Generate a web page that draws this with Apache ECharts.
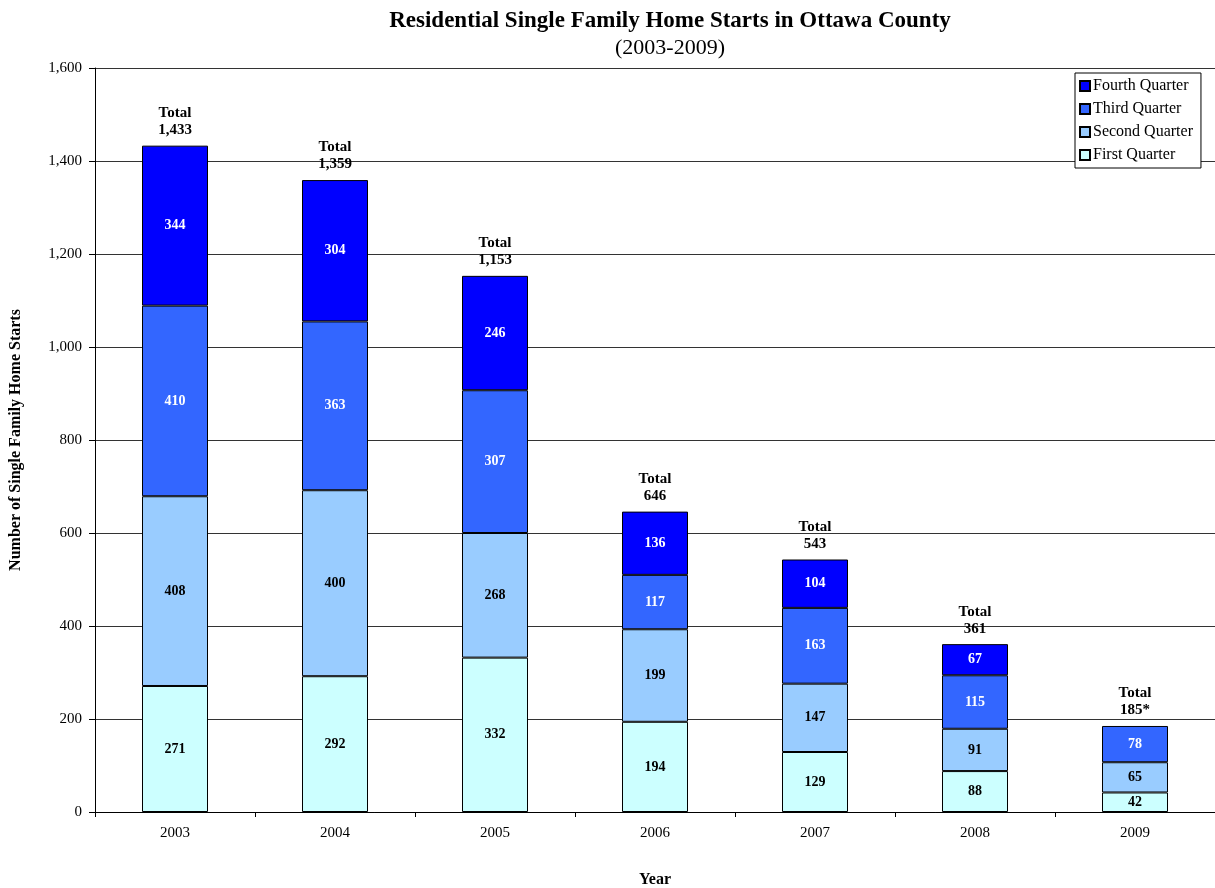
<!DOCTYPE html>
<html>
<head>
<meta charset="utf-8">
<script src="https://cdn.jsdelivr.net/npm/echarts@6/dist/echarts.min.js"></script>
<style>
  html, body { margin: 0; padding: 0; background: #fff; }
  #chart { width: 1215px; height: 888px; }
</style>
</head>
<body>
<div id="chart"></div>
<script>
var years = ['2003', '2004', '2005', '2006', '2007', '2008', '2009'];
var firstQuarter = [271, 292, 332, 194, 129, 88, 42];
var secondQuarter = [408, 400, 268, 199, 147, 91, 65];
var thirdQuarter = [410, 363, 307, 117, 163, 115, 78];
var fourthQuarter = [344, 304, 246, 136, 104, 67, '-'];
var totalLabels = ['1,433', '1,359', '1,153', '646', '543', '361', '185*'];

var serif = "'Liberation Serif', 'Times New Roman', serif";

function quarterSeries(name, data, color, labelColor) {
  return {
    name: name,
    type: 'bar',
    stack: 'starts',
    barWidth: 66,
    data: data,
    itemStyle: { color: color, borderColor: '#000', borderWidth: 1 },
    label: {
      show: true,
      position: 'inside',
      color: labelColor,
      fontFamily: serif,
      fontWeight: 'bold',
      fontSize: 14
    }
  };
}

var myChart = echarts.init(document.getElementById('chart'));
myChart.setOption({
  backgroundColor: '#fff',
  animation: false,
  title: [{
    text: 'Residential Single Family Home Starts in Ottawa County',
    left: 665, top: 5, textAlign: 'center',
    textStyle: { fontFamily: serif, fontWeight: 'bold', fontSize: 23, color: '#000' }
  }, {
    text: '(2003-2009)',
    left: 665, top: 32, textAlign: 'center',
    textStyle: { fontFamily: serif, fontWeight: 'normal', fontSize: 22, color: '#000' }
  }],
  legend: {
    data: ['Fourth Quarter', 'Third Quarter', 'Second Quarter', 'First Quarter'],
    orient: 'vertical',
    left: 1075, top: 73,
    itemWidth: 10, itemHeight: 10, itemGap: 7,
    padding: [5, 8, 5, 4],
    borderColor: '#000', borderWidth: 1,
    backgroundColor: '#fff',
    icon: 'rect',
    textStyle: { fontFamily: serif, fontSize: 16, color: '#000', padding: [0, 0, 0, -2] }
  },
  grid: { left: 95, right: 0, top: 68, bottom: 76, outerBoundsMode: 'none', containLabel: false },
  xAxis: {
    type: 'category',
    data: years,
    name: 'Year',
    nameLocation: 'middle',
    nameGap: 60,
    nameTextStyle: { fontFamily: serif, fontWeight: 'bold', fontSize: 16, color: '#000' },
    axisLine: { lineStyle: { color: '#000', width: 1 } },
    axisTick: { show: true, length: 5, lineStyle: { color: '#000' } },
    axisLabel: { fontFamily: serif, fontSize: 15, color: '#000', margin: 14 }
  },
  yAxis: {
    type: 'value',
    min: 0, max: 1600, interval: 200,
    name: 'Number of Single Family Home Starts',
    nameLocation: 'middle',
    nameGap: 71,
    nameTextStyle: { fontFamily: serif, fontWeight: 'bold', fontSize: 16, color: '#000' },
    axisLine: { show: true, lineStyle: { color: '#000', width: 1 } },
    axisTick: { show: true, length: 6, lineStyle: { color: '#000' } },
    axisLabel: {
      fontFamily: serif, fontSize: 15, color: '#000', margin: 13,
      formatter: function (v) { return v.toLocaleString('en-US'); }
    },
    splitLine: { show: true, lineStyle: { color: '#333', width: 1 } }
  },
  series: [
    quarterSeries('First Quarter', firstQuarter, '#CCFFFF', '#000'),
    quarterSeries('Second Quarter', secondQuarter, '#99CCFF', '#000'),
    quarterSeries('Third Quarter', thirdQuarter, '#3366FF', '#fff'),
    quarterSeries('Fourth Quarter', fourthQuarter, '#0000FF', '#fff'),
    {
      name: 'Total',
      type: 'bar',
      stack: 'starts',
      barWidth: 66,
      data: years.map(function () { return 0; }),
      itemStyle: { color: 'transparent', borderWidth: 0 },
      label: {
        show: true,
        position: 'top',
        distance: 7,
        color: '#000',
        fontFamily: serif,
        fontWeight: 'bold',
        fontSize: 15,
        lineHeight: 17,
        formatter: function (p) { return 'Total\n' + totalLabels[p.dataIndex]; }
      }
    }
  ]
});
</script>
</body>
</html>
